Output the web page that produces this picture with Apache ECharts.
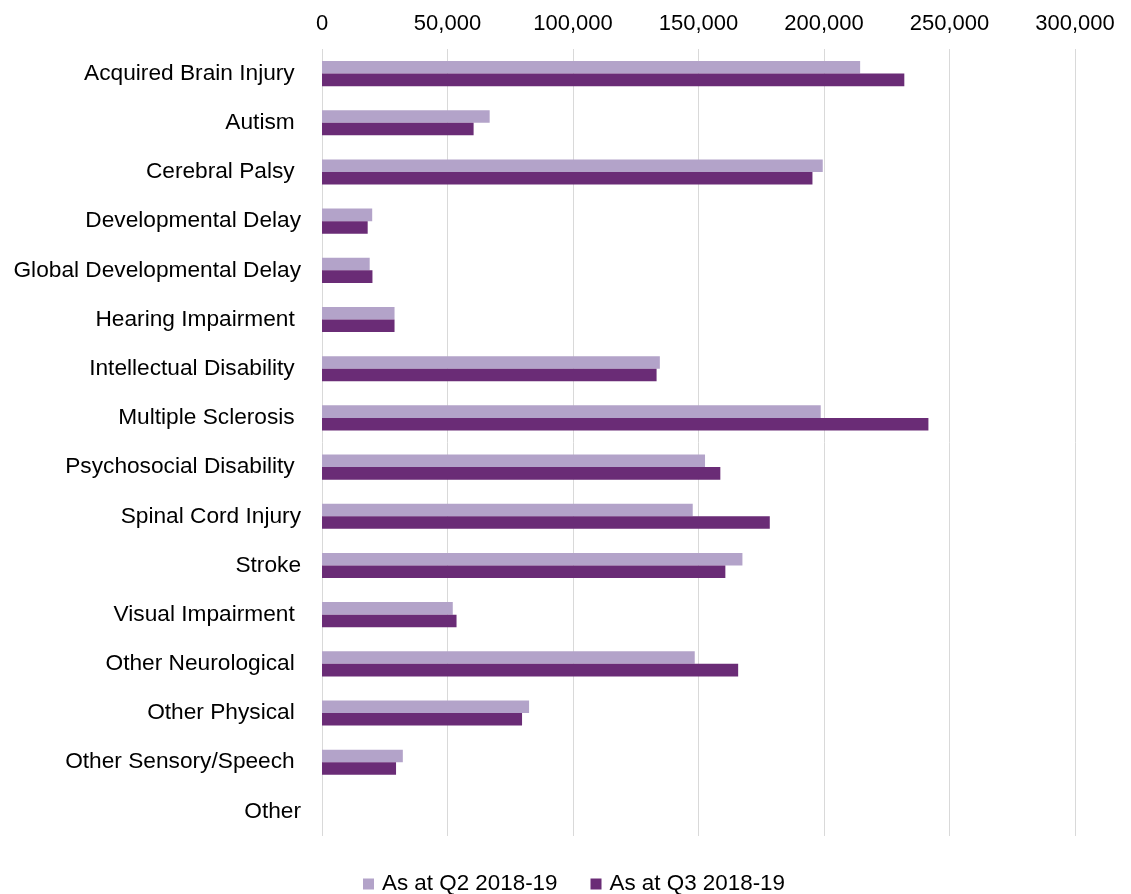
<!DOCTYPE html>
<html>
<head>
<meta charset="utf-8">
<script src="https://cdn.jsdelivr.net/npm/echarts@6/dist/echarts.min.js"></script>
<style>html,body{margin:0;padding:0;background:#fff}#c{width:1131px;height:894px}</style>
</head>
<body>
<div id="c"></div>
<script>
const categories = [
  "Acquired Brain Injury ", "Autism ", "Cerebral Palsy ", "Developmental Delay",
  "Global Developmental Delay", "Hearing Impairment ", "Intellectual Disability ",
  "Multiple Sclerosis ", "Psychosocial Disability ", "Spinal Cord Injury", "Stroke",
  "Visual Impairment ", "Other Neurological ", "Other Physical ", "Other Sensory/Speech ", "Other"
];
const seriesNames = ["As at Q2 2018-19", "As at Q3 2018-19"];
const q2Values = [214400, 66800, 199500, 20000, 19000, 28900, 134600, 198700, 152600, 147700, 167500, 52100, 148500, 82500, 32200, 0];
const q3Values = [232000, 60400, 195400, 18200, 20100, 28900, 133300, 241600, 158700, 178400, 160700, 53600, 165800, 79700, 29500, 0];
const xTicks = { min: 0, max: 300000, interval: 50000 };

const font = "'Liberation Sans', Arial, sans-serif";
const chart = echarts.init(document.getElementById('c'), null, { renderer: 'canvas' });
chart.setOption({
  animation: false,
  backgroundColor: '#fff',
  textStyle: { fontFamily: font },
  grid: { left: 322, right: 56, top: 49, bottom: 58, containLabel: false },
  legend: {
    data: seriesNames,
    left: 358,
    top: 868,
    itemWidth: 11,
    itemHeight: 11,
    itemGap: 33,
    icon: 'rect',
    textStyle: { fontSize: 22.4, color: '#000', fontFamily: font, padding: [0, 0, 0, 3] }
  },
  xAxis: {
    type: 'value',
    position: 'top',
    min: xTicks.min, max: xTicks.max, interval: xTicks.interval,
    axisLine: { show: false },
    axisTick: { show: false },
    splitLine: { show: true, lineStyle: { color: '#d9d9d9', width: 1 } },
    axisLabel: {
      fontSize: 22, color: '#000', fontFamily: font, margin: 14,
      formatter: v => v.toLocaleString('en-US')
    }
  },
  yAxis: {
    type: 'category',
    data: categories,
    inverse: true,
    axisLine: { show: false },
    axisTick: { show: false },
    axisLabel: { fontSize: 22.7, color: '#000', fontFamily: font, margin: 21 }
  },
  series: [
    {
      name: seriesNames[0], type: 'bar', data: q2Values,
      barGap: '0%', barCategoryGap: '49%',
      itemStyle: { color: '#b3a3c9' }
    },
    {
      name: seriesNames[1], type: 'bar', data: q3Values,
      barGap: '0%', barCategoryGap: '49%',
      itemStyle: { color: '#6a2c76' }
    }
  ]
});
</script>
</body>
</html>
